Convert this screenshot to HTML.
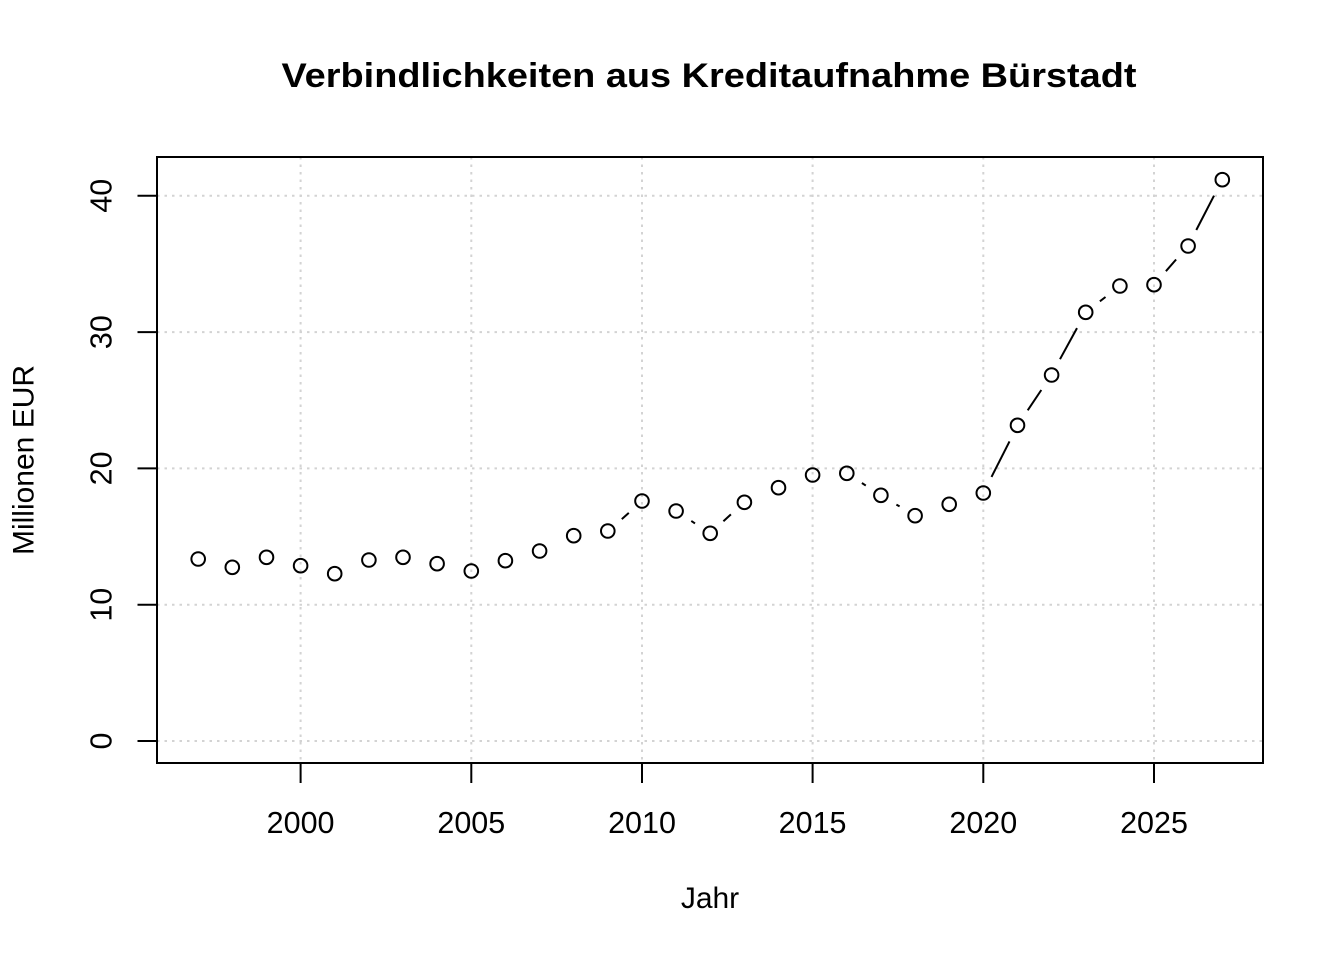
<!DOCTYPE html>
<html><head><meta charset="utf-8"><style>
html,body{margin:0;padding:0;background:#fff;}
svg{display:block;}
text{font-family:"Liberation Sans",Arial,Helvetica,sans-serif;fill:#000;}
</style></head><body>
<svg width="1344" height="960" viewBox="0 0 1344 960" xmlns="http://www.w3.org/2000/svg">
<rect x="0" y="0" width="1344" height="960" fill="#fff"/>
<!-- grid -->
<g stroke="#d3d3d3" stroke-width="2" stroke-dasharray="2.5 5" fill="none">
<line x1="300.6" y1="157" x2="300.6" y2="763"/>
<line x1="471.3" y1="157" x2="471.3" y2="763"/>
<line x1="642" y1="157" x2="642" y2="763"/>
<line x1="812.6" y1="157" x2="812.6" y2="763"/>
<line x1="983.3" y1="157" x2="983.3" y2="763"/>
<line x1="1154" y1="157" x2="1154" y2="763"/>
<line x1="157" y1="741" x2="1263" y2="741"/>
<line x1="157" y1="604.7" x2="1263" y2="604.7"/>
<line x1="157" y1="468.4" x2="1263" y2="468.4"/>
<line x1="157" y1="332.1" x2="1263" y2="332.1"/>
<line x1="157" y1="195.8" x2="1263" y2="195.8"/>
</g>
<!-- box -->
<rect x="157" y="157" width="1106" height="606" fill="none" stroke="#000" stroke-width="2"/>
<!-- ticks -->
<g stroke="#000" stroke-width="2">
<line x1="300.6" y1="763" x2="300.6" y2="783"/>
<line x1="471.3" y1="763" x2="471.3" y2="783"/>
<line x1="642" y1="763" x2="642" y2="783"/>
<line x1="812.6" y1="763" x2="812.6" y2="783"/>
<line x1="983.3" y1="763" x2="983.3" y2="783"/>
<line x1="1154" y1="763" x2="1154" y2="783"/>
<line x1="137.5" y1="741" x2="157" y2="741"/>
<line x1="137.5" y1="604.7" x2="157" y2="604.7"/>
<line x1="137.5" y1="468.4" x2="157" y2="468.4"/>
<line x1="137.5" y1="332.1" x2="157" y2="332.1"/>
<line x1="137.5" y1="195.8" x2="157" y2="195.8"/>
</g>
<g font-size="30.5" text-anchor="middle">
<text x="300.6" y="833">2000</text>
<text x="471.3" y="833">2005</text>
<text x="642" y="833">2010</text>
<text x="812.6" y="833">2015</text>
<text x="983.3" y="833">2020</text>
<text x="1154" y="833">2025</text>
<text transform="translate(111.5,741) rotate(-90)" x="0" y="0">0</text>
<text transform="translate(111.5,604.7) rotate(-90)" x="0" y="0">10</text>
<text transform="translate(111.5,468.4) rotate(-90)" x="0" y="0">20</text>
<text transform="translate(111.5,332.1) rotate(-90)" x="0" y="0">30</text>
<text transform="translate(111.5,195.8) rotate(-90)" x="0" y="0">40</text>
</g>
<text x="710" y="908" font-size="30" text-anchor="middle">Jahr</text>
<text transform="translate(33.5,460) rotate(-90)" x="0" y="0" font-size="30" text-anchor="middle">Millionen EUR</text>
<text x="709" y="87" font-size="34" font-weight="bold" text-anchor="middle" textLength="855" lengthAdjust="spacingAndGlyphs">Verbindlichkeiten aus Kreditaufnahme Bürstadt</text>
<!-- segments -->
<g stroke="#000" stroke-width="2" fill="none">
<line x1="621.8" y1="519.1" x2="628.8" y2="512.9"/>
<line x1="691.3" y1="520.9" x2="695" y2="523.4"/>
<line x1="723.4" y1="521.2" x2="730.9" y2="514.4"/>
<line x1="861.9" y1="483" x2="865.8" y2="485.6"/>
<line x1="896.4" y1="504.6" x2="899.6" y2="506.4"/>
<line x1="991.5" y1="476.9" x2="1009.5" y2="441.4"/>
<line x1="1027.7" y1="410.3" x2="1041.3" y2="390"/>
<line x1="1060" y1="359.2" x2="1077" y2="328.1"/>
<line x1="1099.9" y1="301.3" x2="1105.5" y2="297"/>
<line x1="1165.9" y1="271.2" x2="1176.1" y2="259.5"/>
<line x1="1196.3" y1="230" x2="1214" y2="195.7"/>
</g>
<!-- points -->
<g stroke="#000" stroke-width="2" fill="none">
<circle cx="198.2" cy="559" r="6.8"/>
<circle cx="232.3" cy="567.3" r="6.8"/>
<circle cx="266.5" cy="557.3" r="6.8"/>
<circle cx="300.6" cy="565.7" r="6.8"/>
<circle cx="334.7" cy="573.7" r="6.8"/>
<circle cx="368.9" cy="560" r="6.8"/>
<circle cx="403" cy="557.3" r="6.8"/>
<circle cx="437.1" cy="563.7" r="6.8"/>
<circle cx="471.3" cy="571" r="6.8"/>
<circle cx="505.4" cy="560.7" r="6.8"/>
<circle cx="539.6" cy="551" r="6.8"/>
<circle cx="573.7" cy="535.7" r="6.8"/>
<circle cx="607.8" cy="531" r="6.8"/>
<circle cx="642" cy="501" r="6.8"/>
<circle cx="676.1" cy="511" r="6.8"/>
<circle cx="710.2" cy="533.3" r="6.8"/>
<circle cx="744.4" cy="502.3" r="6.8"/>
<circle cx="778.5" cy="487.7" r="6.8"/>
<circle cx="812.6" cy="475" r="6.8"/>
<circle cx="846.8" cy="473.3" r="6.8"/>
<circle cx="880.9" cy="495.3" r="6.8"/>
<circle cx="915.1" cy="515.7" r="6.8"/>
<circle cx="949.2" cy="504.3" r="6.8"/>
<circle cx="983.3" cy="493" r="6.8"/>
<circle cx="1017.5" cy="425.3" r="6.8"/>
<circle cx="1051.6" cy="375" r="6.8"/>
<circle cx="1085.7" cy="312.3" r="6.8"/>
<circle cx="1119.9" cy="286" r="6.8"/>
<circle cx="1154" cy="284.7" r="6.8"/>
<circle cx="1188.1" cy="246" r="6.8"/>
<circle cx="1222.3" cy="179.7" r="6.8"/>
</g>
</svg>
</body></html>
